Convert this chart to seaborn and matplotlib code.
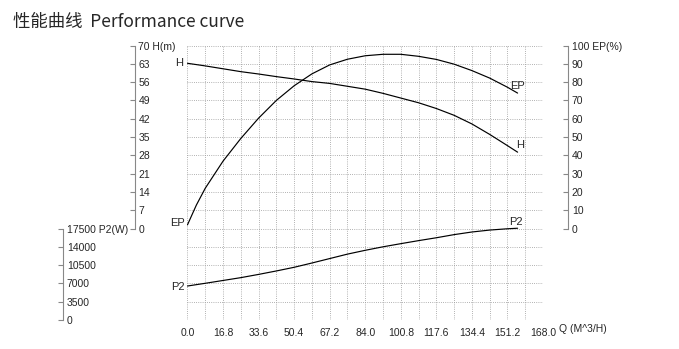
import numpy as np
import pandas as pd
import matplotlib
matplotlib.use("Agg")
import matplotlib.pyplot as plt
import seaborn as sns

# ---- data ----
q = [0, 4.2, 8.4, 16.8, 25.2, 33.6, 42, 50.4, 58.8, 67.2, 75.6, 84, 92.4, 100.8,
     109.2, 117.6, 126, 134.4, 142.8, 151.2, 156]
head = [63.2, 62.7, 62.2, 61.1, 60.0, 59.1, 58.1, 57.2, 56.2, 55.5, 54.4, 53.3, 51.7,
        49.9, 48.1, 45.9, 43.3, 40.0, 36.0, 31.7, 29.2]
eff = [2.0, 12.8, 22.0, 36.8, 49.2, 60.3, 70.0, 78.0, 84.5, 89.4, 92.5, 94.4, 95.2,
       95.2, 94.1, 92.4, 89.8, 86.3, 82.2, 77.2, 74.0]
power = [6500, 6760, 7020, 7560, 8100, 8720, 9380, 10080, 10900, 11750, 12600, 13330,
         14000, 14600, 15180, 15730, 16330, 16830, 17200, 17450, 17550]

q_ticks = [0.0, 16.8, 33.6, 50.4, 67.2, 84.0, 100.8, 117.6, 134.4, 151.2, 168.0]
h_ticks = [0, 7, 14, 21, 28, 35, 42, 49, 56, 63, 70]
ep_ticks = [0, 10, 20, 30, 40, 50, 60, 70, 80, 90, 100]
p2_ticks = [0, 3500, 7000, 10500, 14000, 17500]

title = "性能曲线  Performance curve"
x_unit = "Q (M^3/H)"

df = pd.DataFrame({"Q": q, "H": head, "EP": eff, "P2": power})

sns.set_theme(style="white")
plt.rcParams["font.family"] = ["Liberation Sans", "DejaVu Sans"]

fig = plt.figure(figsize=(6.79, 3.49), dpi=100)
ax = fig.add_axes([0.2761, 0.0831, 0.5236, 0.7865])
ax.set_xlim(0, 168)
ax.set_ylim(-35, 70)
ax.set_xticks(q_ticks)
ax.set_xticklabels([f"{v:.1f}" for v in q_ticks], fontsize=7.5)
ax.set_xticks(np.arange(0, 168.01, 8.4), minor=True)
ax.set_yticks(np.arange(-35, 70.01, 7))
ax.set_yticklabels([])
ax.tick_params(axis="both", which="both", length=0)
ax.tick_params(axis="x", pad=5.5)
grid_kw = dict(color="#999999", linewidth=0.6, linestyle=(0, (1.0, 1.6)))
ax.grid(True, which="both", axis="both", **grid_kw)
for s in ax.spines.values():
    s.set_visible(False)
ax.text(1.045, -0.015, x_unit, transform=ax.transAxes, fontsize=7.5,
        ha="left", va="top")

spine_col = "#888888"


def make_axis(pos, ylim, ticks, labels):
    a = ax.twinx()
    a.set_ylim(*ylim)
    for name, s in a.spines.items():
        s.set_visible(name == "right")
    a.spines["right"].set_position(("axes", pos))
    a.spines["right"].set_bounds(ticks[0], ticks[-1])
    a.spines["right"].set_color(spine_col)
    a.spines["right"].set_linewidth(0.8)
    a.yaxis.tick_right()
    a.set_yticks(ticks)
    a.set_yticklabels(labels, fontsize=7.5)
    a.tick_params(axis="y", direction="in", length=3.5, width=0.8,
                  color=spine_col, pad=2.5)
    return a


axH = make_axis(-0.1477, (-35, 70), h_ticks,
                [str(v) for v in h_ticks[:-1]] + ["70 H(m)"])
axE = make_axis(1.071, (-50, 100), ep_ticks,
                [str(v) for v in ep_ticks[:-1]] + ["100 EP(%)"])
axP = make_axis(-0.349, (0, 52500), p2_ticks,
                [str(v) for v in p2_ticks[:-1]] + ["17500 P2(W)"])

line_kw = dict(color="black", linewidth=0.85)
sns.lineplot(data=df, x="Q", y="H", ax=axH, **line_kw)
sns.lineplot(data=df, x="Q", y="EP", ax=axE, **line_kw)
sns.lineplot(data=df, x="Q", y="P2", ax=axP, **line_kw)
for a in (axH, axE, axP):
    a.set_xlabel("")
    a.set_ylabel("")
ax.set_xlabel("")
ax.set_ylabel("")

lab_kw = dict(fontsize=8, textcoords="offset points")
# start labels
axH.annotate("H", (q[0], head[0]), xytext=(-3, 0), ha="right", va="center", **lab_kw)
axE.annotate("EP", (q[0], eff[0]), xytext=(-2, 1), ha="right", va="center", **lab_kw)
axP.annotate("P2", (q[0], power[0]), xytext=(-2, -1), ha="right", va="center", **lab_kw)
# end labels
axE.annotate("EP", (q[-1], eff[-1]), xytext=(0, 1.5), ha="center", va="bottom", **lab_kw)
axH.annotate("H", (q[-1], head[-1]), xytext=(2, 1.5), ha="center", va="bottom", **lab_kw)
axP.annotate("P2", (q[-1], power[-1]), xytext=(-1, 1), ha="center", va="bottom", **lab_kw)

fig.text(0.019, 0.937, title, fontsize=12.5, ha="left", va="center",
         family=["Noto Sans CJK SC", "DejaVu Sans"])

fig.savefig("out.png", dpi=100)
